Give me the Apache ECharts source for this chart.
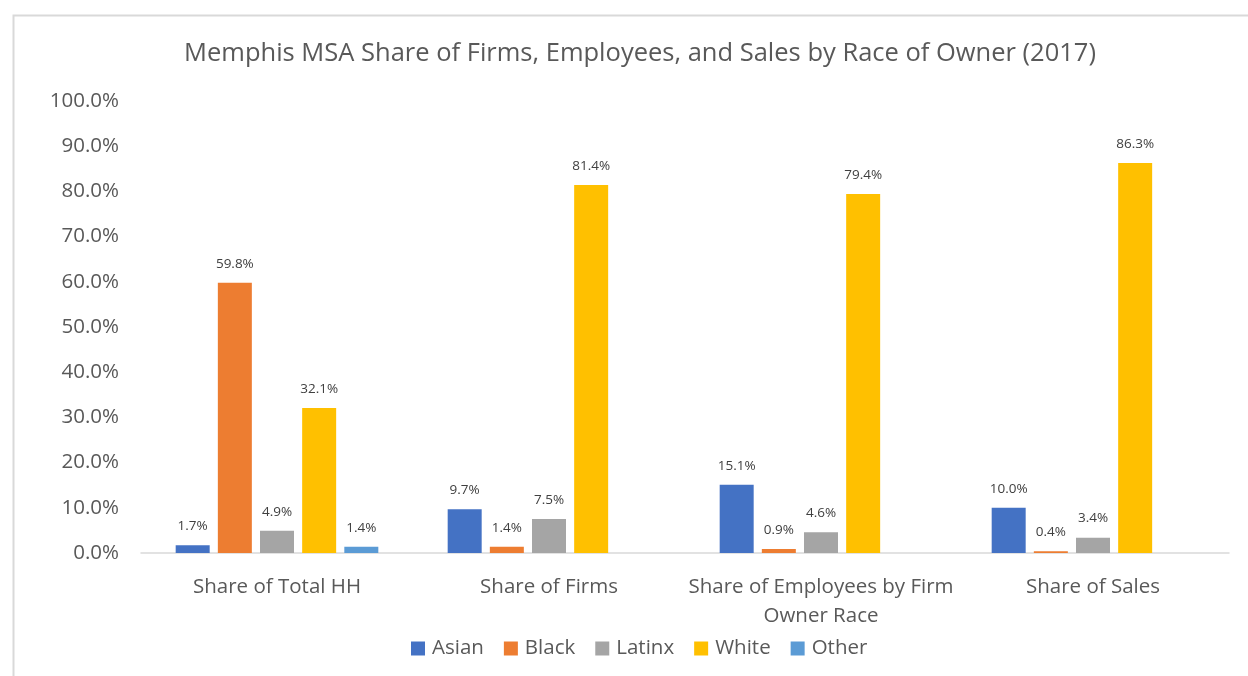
<!DOCTYPE html>
<html>
<head>
<meta charset="utf-8">
<script src="https://cdn.jsdelivr.net/npm/echarts@6/dist/echarts.min.js"></script>
<style>html,body{margin:0;padding:0;background:#fff}#c{width:1248px;height:676px}</style>
</head>
<body>
<div id="c"></div>
<script>
const categories = ['Share of Total HH', 'Share of Firms', 'Share of Employees by Firm\nOwner Race', 'Share of Sales'];
const seriesNames = ['Asian', 'Black', 'Latinx', 'White', 'Other'];
const asian = [1.7, 9.7, 15.1, 10.0];
const black = [59.8, 1.4, 0.9, 0.4];
const latinx = [4.9, 7.5, 4.6, 3.4];
const white = [32.1, 81.4, 79.4, 86.3];
const other = [1.4, null, null, null];
const colors = ['#4472C4', '#ED7D31', '#A5A5A5', '#FFC000', '#5B9BD5'];
const yTicks = [0, 10, 20, 30, 40, 50, 60, 70, 80, 90, 100];

const font = '"Open Sans", "Noto Sans", sans-serif';
const values = [asian, black, latinx, white, other];

const chart = echarts.init(document.getElementById('c'), null, {renderer: 'canvas'});
chart.setOption({
  animation: false,
  textStyle: {fontFamily: font},
  graphic: [{
    type: 'rect', left: 11, top: 13, shape: {x: 0, y: 0, width: 1250, height: 680},
    style: {fill: 'none', stroke: '#d9d9d9', lineWidth: 2}, z: -1
  }],
  title: {
    text: 'Memphis MSA Share of Firms, Employees, and Sales by Race of Owner (2017)',
    left: 635, textAlign: 'center', top: 36,
    textStyle: {fontFamily: font, fontSize: 25.5, fontWeight: 'normal', color: '#595959'}
  },
  legend: {
    data: seriesNames, bottom: 12, left: 406, itemWidth: 14, itemHeight: 14, itemGap: 20,
    icon: 'rect',
    textStyle: {fontFamily: font, fontSize: 20.5, color: '#595959', padding: [0, 0, 0, 2]}
  },
  grid: {left: 141, right: 19, top: 101, bottom: 123, containLabel: false},
  xAxis: {
    type: 'category', data: categories,
    axisLine: {lineStyle: {color: '#d9d9d9', width: 1.5}},
    axisTick: {show: false},
    axisLabel: {interval: 0, fontFamily: font, fontSize: 20.5, color: '#595959', margin: 20, lineHeight: 29}
  },
  yAxis: {
    type: 'value', min: 0, max: 100, interval: 10,
    splitLine: {show: false},
    axisLine: {show: false}, axisTick: {show: false},
    axisLabel: {fontFamily: font, fontSize: 20.5, color: '#595959', margin: 22,
      formatter: v => yTicks.includes(v) ? v.toFixed(1) + '%' : ''}
  },
  series: seriesNames.map((n, i) => ({
    name: n, type: 'bar', data: values[i], barWidth: 34, barGap: '24%',
    itemStyle: {color: colors[i]},
    label: {show: true, position: 'top', distance: 12, fontFamily: font, fontSize: 13.5, color: '#404040',
      formatter: p => p.value == null ? '' : Number(p.value).toFixed(1) + '%'}
  }))
});
</script>
</body>
</html>
